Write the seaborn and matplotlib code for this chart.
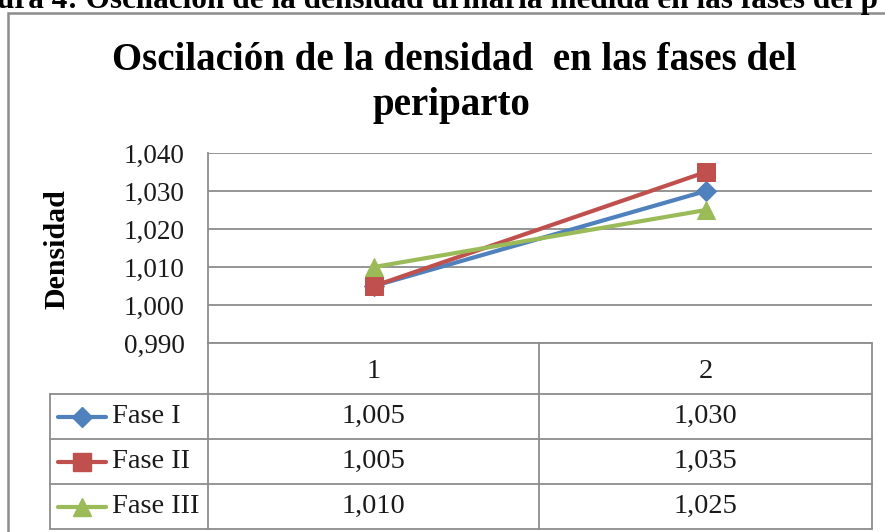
import numpy as np
import pandas as pd
import matplotlib
matplotlib.use("Agg")
import matplotlib.pyplot as plt
import seaborn as sns
from matplotlib.lines import Line2D
from matplotlib.patches import Rectangle

# ---- data ----
categories = ["1", "2"]
series_names = ["Fase I", "Fase II", "Fase III"]
fase_i = [1.005, 1.030]
fase_ii = [1.005, 1.035]
fase_iii = [1.010, 1.025]
yticks = [0.990, 1.000, 1.010, 1.020, 1.030, 1.040]

title_lines = ["Oscilación de la densidad  en las fases del", "periparto"]
caption = "ura 4: Oscilación de la densidad urinaria medida en las fases del p"
ylabel = "Densidad"

colors = {"Fase I": "#4F81BD", "Fase II": "#C0504D", "Fase III": "#9BBB59"}
markers = {"Fase I": "D", "Fase II": "s", "Fase III": "^"}
msizes = {"Fase I": 10.5, "Fase II": 12.5, "Fase III": 13}

rows = []
for name, vals in zip(series_names, [fase_i, fase_ii, fase_iii]):
    for c, v in zip(categories, vals):
        rows.append({"cat": c, "val": v, "serie": name})
df = pd.DataFrame(rows)

sns.set_theme(style="white")
plt.rcParams["font.family"] = ["Liberation Serif", "DejaVu Serif"]

W, H = 885, 532
fig = plt.figure(figsize=(W / 100, H / 100), dpi=100)
fig.patch.set_facecolor("white")

def fx(x):
    return x / W

def fy(y):
    return 1 - y / H

GRID = "#8C8C8C"
TXT = "#1a1a1a"

# axes area
L, R, T, B = 208, 872, 153, 343
ax = fig.add_axes([fx(L), fy(B), fx(R) - fx(L), fy(T) - fy(B)])

xmap = {c: i for i, c in enumerate(categories)}
df["x"] = df["cat"].map(xmap)
for name in series_names:
    sub = df[df["serie"] == name]
    sns.lineplot(data=sub, x="x", y="val", ax=ax, color=colors[name],
                 marker=markers[name], markersize=msizes[name],
                 markeredgecolor=colors[name], linewidth=3.0, legend=False,
                 zorder=3)

ax.set_xlim(-0.5, len(categories) - 0.5)
ax.set_ylim(yticks[0], yticks[-1])
ax.set_yticks(yticks)
ax.set_yticklabels([f"{t:.3f}".replace(".", ",") for t in yticks],
                   fontsize=19.5, color=TXT)
ax.tick_params(axis="y", length=0, pad=17)
ax.set_xticks([])
ax.set_xlabel("")
ax.set_ylabel("")
ax.yaxis.grid(True, color=GRID, linewidth=1.3)
ax.set_axisbelow(True)
for s in ["top", "right", "bottom"]:
    ax.spines[s].set_visible(False)
ax.spines["left"].set_color(GRID)
ax.spines["left"].set_linewidth(1.3)

# y label
fig.text(fx(57), fy(249), ylabel, rotation=90, ha="center", va="center",
         fontsize=21.5, fontweight="bold", color="black")

# title (two lines)
fig.text(fx(454), fy(70), title_lines[0], ha="center", va="baseline",
         fontsize=28, fontweight="bold", color="black")
fig.text(fx(451), fy(115), title_lines[1], ha="center", va="baseline",
         fontsize=28, fontweight="bold", color="black")

# caption cut at top
fig.text(fx(-3), fy(8), caption, ha="left", va="baseline", fontsize=22.5,
         fontweight="bold", color="black")

# outer frame
fig.add_artist(Rectangle((fx(8), fy(600)), fx(900) - fx(8), fy(13) - fy(600),
                         transform=fig.transFigure, fill=False,
                         edgecolor="#8C8C8C", linewidth=1.8, zorder=0))

# ---- data table ----
def hline(y, x0, x1):
    fig.add_artist(Line2D([fx(x0), fx(x1)], [fy(y), fy(y)],
                          transform=fig.transFigure, color=GRID, lw=1.3))

def vline(x, y0, y1):
    fig.add_artist(Line2D([fx(x), fx(x)], [fy(y0), fy(y1)],
                          transform=fig.transFigure, color=GRID, lw=1.3))

col_edges = [L, 539, R]
row_edges = [343, 394, 439, 484, 529]
hline(row_edges[0], L, R)
for y in row_edges[1:]:
    hline(y, 50, R)
vline(L, 343, row_edges[-1])
vline(col_edges[1], 343, row_edges[-1])
vline(R, 343, row_edges[-1])
vline(50, row_edges[1], row_edges[-1])

for j, c in enumerate(categories):
    cx = (col_edges[j] + col_edges[j + 1]) / 2
    fig.text(fx(cx), fy(372), c, ha="center", va="center", fontsize=20.5,
             color=TXT)

for i, (name, vals) in enumerate(zip(series_names, [fase_i, fase_ii, fase_iii])):
    cy = (row_edges[i + 1] + row_edges[i + 2]) / 2
    fig.add_artist(Line2D([fx(58), fx(106)], [fy(cy), fy(cy)],
                          transform=fig.transFigure, color=colors[name], lw=3.0,
                          solid_capstyle="round"))
    fig.add_artist(Line2D([fx(82)], [fy(cy)], transform=fig.transFigure,
                          marker=markers[name], markersize=msizes[name],
                          color=colors[name], markeredgecolor=colors[name]))
    fig.text(fx(112), fy(cy), name, ha="left", va="center", fontsize=20.5,
             color=TXT)
    for j, v in enumerate(vals):
        cx = (col_edges[j] + col_edges[j + 1]) / 2
        fig.text(fx(cx), fy(cy), f"{v:.3f}".replace(".", ","),
                 ha="center", va="center", fontsize=20.5, color=TXT)

fig.savefig("out.png", dpi=100, facecolor="white")
